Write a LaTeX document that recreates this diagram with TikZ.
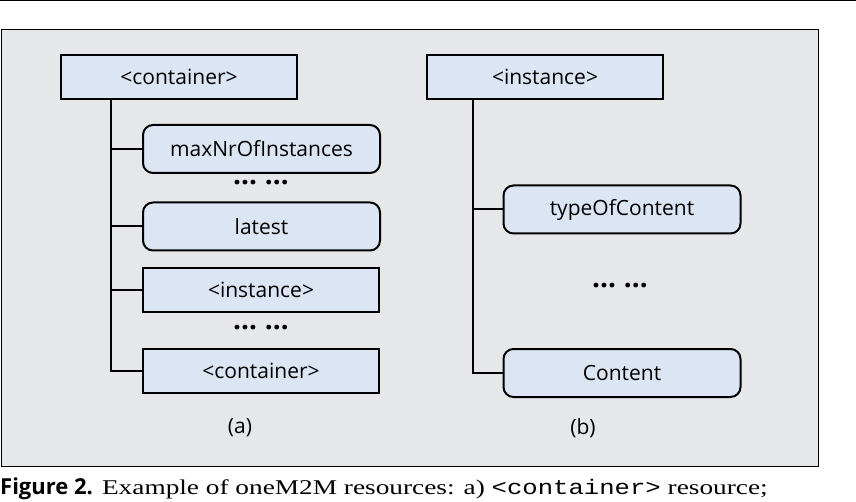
\documentclass[tikz,border=0pt]{standalone}
\usepackage{fontspec}
\setmainfont{Liberation Serif}[FakeStretch=1.3]
\setsansfont{Open Sans}
\setmonofont{Liberation Mono}[FakeStretch=1.22]
\usepackage{tikz}
\usetikzlibrary{positioning, calc}
\usepackage{xcolor}
\definecolor{panelgrey}{HTML}{E6E7E8}
\definecolor{boxblue}{HTML}{DCE5F3}

\begin{document}
\begin{tikzpicture}[
 x=1pt, y=-1pt,
 font=\sffamily\fontsize{21}{24}\selectfont,
 resbox/.style={draw, line width=2pt, fill=boxblue, minimum width=236pt, minimum height=44pt, inner sep=0pt},
 attrbox/.style={resbox, rounded corners=10pt, minimum width=237pt, minimum height=48pt},
 tree/.style={line width=2pt},
 dots/.style={inner sep=0pt, font=\sffamily\bfseries\fontsize{28}{28}\selectfont}
]
 \useasboundingbox (0,0) rectangle (856,502);
 % rule on top and grey panel behind both trees
 \draw[line width=1.5pt] (0,0.75) -- (856,0.75);
 \draw[fill=panelgrey, line width=1pt] (1.5,30) rectangle (818,466);

 % (a) container resource
 \node[resbox] (cont) at (179,77) {<container>};
 \node[attrbox] (maxnr) at (261.5,149) {maxNrOfInstances};
 \node[dots] (dotsa1) at (261,183) {\dots\hspace{8pt}\dots};
 \node[attrbox] (latest) at (261.5,226.5) {latest};
 \node[resbox] (inst) at (261,290) {<instance>};
 \node[dots] (dotsa2) at (261,328) {\dots\hspace{8pt}\dots};
 \node[resbox] (subcont) at (261,371) {<container>};
 \node (capa) at (240,428) {(a)};

 % (b) instance resource
 \node[resbox] (instb) at (545,77) {<instance>};
 \node[attrbox] (typeof) at (622,209.5) {typeOfContent};
 \node[dots] (dotsb) at (620,286) {\dots\hspace{8pt}\dots};
 \node[attrbox] (content) at (622,373) {Content};
 \node (capb) at (583,428) {(b)};

 % trunks
 \coordinate (ta) at (111,99);
 \coordinate (tb) at (473,99);
 \draw[tree] (ta) |- (subcont.west);
 \draw[tree] (ta |- maxnr.west) -- (maxnr.west);
 \draw[tree] (ta |- latest.west) -- (latest.west);
 \draw[tree] (ta |- inst.west) -- (inst.west);
 \draw[tree] (tb) |- (content.west);
 \draw[tree] (tb |- typeof.west) -- (typeof.west);

 % caption
 \node[anchor=base west, inner sep=0pt, font=\fontsize{21}{23}\selectfont] (caption) at (0,494)
  {\textsf{\textbf{\fontsize{22}{24}\selectfont Figure 2.}} Example of oneM2M resources: a) \texttt{<container>} resource;};
\end{tikzpicture}
\end{document}
